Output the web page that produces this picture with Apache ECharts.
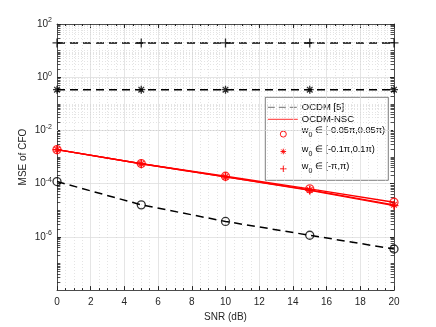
<!DOCTYPE html>
<html>
<head>
<meta charset="utf-8">
<title>MSE of CFO</title>
<script src="https://cdn.jsdelivr.net/npm/echarts@6.0.0/dist/echarts.min.js"></script>
<style>
  html, body { margin: 0; padding: 0; background: #fff; }
  #chart { width: 436px; height: 327px; }
</style>
</head>
<body>
<div id="chart"></div>
<script>
// data
var snr = [0, 5, 10, 15, 20];
var ocdmPlus = [19.5, 19.5, 19.5, 19.5, 19.5];
var ocdmStar = [0.34, 0.34, 0.34, 0.34, 0.34];
var ocdmCircle = [1.2e-4, 1.6e-5, 3.8e-6, 1.15e-6, 3.5e-7];
var nscCircle = [1.9e-3, 5.7e-4, 1.9e-4, 6.4e-5, 2.0e-5];
var nscStar = [1.9e-3, 5.6e-4, 1.8e-4, 5.8e-5, 1.6e-5];
var nscPlus = [1.9e-3, 5.6e-4, 1.8e-4, 5.6e-5, 1.5e-5];

var nameOcdm = 'OCDM [5]';
var nameNsc = 'OCDM-NSC';
var nameA = 'w0 ∈ [-0.05π,0.05π)';
var nameB = 'w0 ∈ [-0.1π,0.1π)';
var nameC = 'w0 ∈ [-π,π)';

var FONT = '"Liberation Sans", Arial, Helvetica, sans-serif';
var AX = '#262626';
var RED = '#ff0000';
var STAR = 'path://M0,-1L0,1M-1,0L1,0M-0.7,-0.7L0.7,0.7M-0.7,0.7L0.7,-0.7';
var PLUS = 'path://M0,-1L0,1M-1,0L1,0';

function zip(ys) {
    return snr.map(function (x, i) { return [x, ys[i]]; });
}
function markers(red, black) {
    var d = zip(red);
    zip(black).forEach(function (p) {
        d.push({ value: p, itemStyle: { borderColor: '#000' } });
    });
    return d;
}

// minor log grid lines and minor ticks (2..9 x 10^k, plus odd decades)
var minorGrid = [];
var minorTicks = [];
for (var e = -8; e < 2; e++) {
    for (var m = 1; m <= 9; m++) {
        if (m === 1 && e % 2 === 0) continue;
        var v = m * Math.pow(10, e);
        minorGrid.push({ yAxis: v });
        minorTicks.push([{ coord: [0, v] }, { coord: [0.2, v] }]);
        minorTicks.push([{ coord: [19.8, v] }, { coord: [20, v] }]);
    }
}

// legend box drawn by hand (MATLAB style)
function segs(cx, cy, r, diag) {
    var out = [
        { type: 'line', shape: { x1: cx, y1: cy - r, x2: cx, y2: cy + r } },
        { type: 'line', shape: { x1: cx - r, y1: cy, x2: cx + r, y2: cy } }
    ];
    if (diag) {
        var d = r * 0.72;
        out.push({ type: 'line', shape: { x1: cx - d, y1: cy - d, x2: cx + d, y2: cy + d } });
        out.push({ type: 'line', shape: { x1: cx - d, y1: cy + d, x2: cx + d, y2: cy - d } });
    }
    out.forEach(function (s) { s.style = { stroke: RED, lineWidth: 0.9 }; });
    return out;
}
function subText(name, top) {
    return {
        type: 'text', x: 37, y: top,
        style: {
            text: '{m|w}{sub|0}{m|' + name.slice(2) + '}',
            verticalAlign: 'top', fill: '#000',
            rich: {
                m: { fontSize: 9.2, lineHeight: 11, verticalAlign: 'top', fontFamily: FONT, fill: '#000' },
                sub: { fontSize: 7, lineHeight: 8, verticalAlign: 'top', padding: [6, 0, 2, 0], fontFamily: FONT, fill: '#000' }
            }
        }
    };
}
var legendChildren = [
    { type: 'rect', shape: { x: 0.5, y: 0.5, width: 123, height: 83 },
      style: { fill: '#fff', stroke: AX, lineWidth: 0.6 } },
    { type: 'line', shape: { x1: 3, y1: 10.5, x2: 33, y2: 10.5 },
      style: { stroke: '#707070', lineWidth: 1, lineDash: [7, 4] } },
    { type: 'text', x: 37, y: 10.3,
      style: { text: nameOcdm, fontSize: 9.5, fontFamily: FONT, fill: '#000', verticalAlign: 'middle' } },
    { type: 'line', shape: { x1: 3, y1: 22.5, x2: 33, y2: 22.5 },
      style: { stroke: '#ff3030', lineWidth: 1 } },
    { type: 'text', x: 37, y: 22.3,
      style: { text: nameNsc, fontSize: 9.5, fontFamily: FONT, fill: '#000', verticalAlign: 'middle' } },
    { type: 'circle', shape: { cx: 18.5, cy: 37.3, r: 3 },
      style: { fill: 'none', stroke: RED, lineWidth: 0.9 } },
    subText(nameA, 29.2),
    subText(nameB, 47.8),
    subText(nameC, 65.2)
].concat(segs(18.5, 54.7, 2.8, true), segs(18.5, 72, 3.2, false));

var chart = echarts.init(document.getElementById('chart'));

var xBase = {
    type: 'value', min: 0, max: 20, interval: 2,
    axisLine: { show: true, onZero: false, lineStyle: { color: AX, width: 0.8 } },
    axisTick: { inside: true, length: 4, lineStyle: { color: AX } },
    minorTick: { show: true, splitNumber: 4, length: 2, lineStyle: { color: AX } }
};
var yBase = {
    type: 'log', logBase: 10, min: 1e-8, max: 1e2, interval: 2,
    axisLine: { show: true, onZero: false, lineStyle: { color: AX, width: 0.8 } },
    axisTick: { inside: true, length: 4, lineStyle: { color: AX } }
};

chart.setOption({
    animation: false,
    textStyle: { fontFamily: FONT },
    grid: { left: 57, right: 42, top: 24, bottom: 36 },
    graphic: [
        { type: 'group', left: 265, top: 97, z: 100, silent: true, children: legendChildren }
    ],
    xAxis: [
        Object.assign({}, xBase, {
            position: 'bottom',
            name: 'SNR (dB)', nameLocation: 'middle', nameGap: 21,
            nameTextStyle: { fontSize: 10, color: AX, fontFamily: FONT },
            axisLabel: { fontSize: 10, color: AX, margin: 7, fontFamily: FONT },
            splitLine: { show: true, lineStyle: { color: '#dedede', width: 0.8 } },
            minorSplitLine: { show: true, lineStyle: { color: '#d2d2d2', type: [1, 2], width: 0.6 } }
        }),
        Object.assign({}, xBase, {
            position: 'top',
            axisLabel: { show: false },
            splitLine: { show: false }
        })
    ],
    yAxis: [
        Object.assign({}, yBase, {
            position: 'left',
            name: 'MSE of CFO', nameLocation: 'middle', nameGap: 29,
            nameMoveOverlap: false,
            nameTextStyle: { fontSize: 10, color: AX, fontFamily: FONT },
            axisLabel: {
                fontSize: 10, color: AX, margin: 5, fontFamily: FONT,
                showMinLabel: false,
                formatter: function (v) {
                    return '10{sup|' + Math.round(Math.log10(v)) + '}';
                },
                rich: { sup: { fontSize: 7, color: AX, padding: [0, 0, 7, 0], fontFamily: FONT } }
            },
            splitLine: { show: true, lineStyle: { color: '#dedede', width: 0.8 } }
        }),
        Object.assign({}, yBase, {
            position: 'right',
            axisLabel: { show: false },
            splitLine: { show: false }
        })
    ],
    series: [
        {
            name: '', type: 'line', data: [], z: 1, silent: true,
            markLine: {
                silent: true, symbol: 'none', label: { show: false },
                lineStyle: { color: '#d2d2d2', type: [1, 2], width: 0.6 },
                data: minorGrid
            }
        },
        {
            name: '', type: 'line', data: [], z: 1, silent: true,
            markLine: {
                silent: true, symbol: 'none', label: { show: false },
                lineStyle: { color: AX, type: 'solid', width: 0.8 },
                data: minorTicks
            }
        },
        { name: nameOcdm, type: 'line', symbol: 'none', data: zip(ocdmPlus),
          lineStyle: { color: '#000', width: 1.5, type: [8, 5] }, itemStyle: { color: '#000' } },
        { name: nameOcdm, type: 'line', symbol: 'none', data: zip(ocdmStar),
          lineStyle: { color: '#000', width: 1.5, type: [8, 5] }, itemStyle: { color: '#000' } },
        { name: nameOcdm, type: 'line', symbol: 'none', data: zip(ocdmCircle),
          lineStyle: { color: '#000', width: 1.5, type: [8, 5] }, itemStyle: { color: '#000' } },
        { name: nameNsc, type: 'line', symbol: 'none', data: zip(nscCircle),
          lineStyle: { color: RED, width: 1.3 }, itemStyle: { color: RED } },
        { name: nameNsc, type: 'line', symbol: 'none', data: zip(nscStar),
          lineStyle: { color: RED, width: 1.3 }, itemStyle: { color: RED } },
        { name: nameNsc, type: 'line', symbol: 'none', data: zip(nscPlus),
          lineStyle: { color: RED, width: 1.3 }, itemStyle: { color: RED } },
        { name: nameA, type: 'scatter', symbol: 'circle', symbolSize: 8, z: 5,
          data: markers(nscCircle, ocdmCircle),
          itemStyle: { color: 'rgba(0,0,0,0)', borderColor: RED, borderWidth: 1.3 } },
        { name: nameB, type: 'scatter', symbol: STAR, symbolSize: 8, z: 5,
          data: markers(nscStar, ocdmStar),
          itemStyle: { color: 'rgba(0,0,0,0)', borderColor: RED, borderWidth: 1.3 } },
        { name: nameC, type: 'scatter', symbol: PLUS, symbolSize: 9, z: 5,
          data: markers(nscPlus, ocdmPlus),
          itemStyle: { color: 'rgba(0,0,0,0)', borderColor: RED, borderWidth: 1.3 } }
    ]
});
</script>
</body>
</html>
